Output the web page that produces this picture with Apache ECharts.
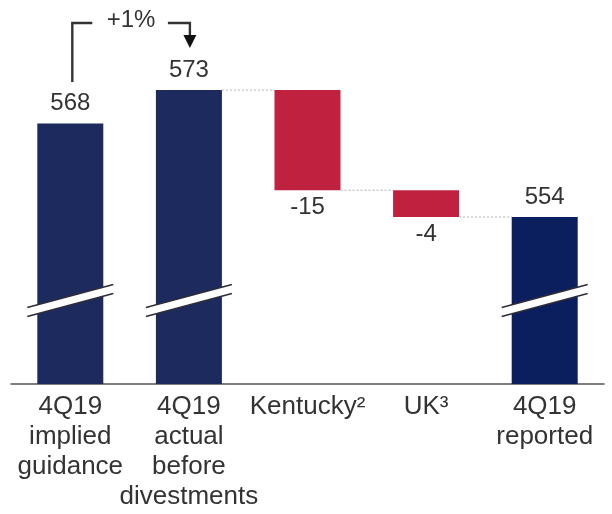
<!DOCTYPE html>
<html>
<head>
<meta charset="utf-8">
<script src="https://cdn.jsdelivr.net/npm/echarts@6/dist/echarts.min.js"></script>
<style>
  html, body { margin: 0; padding: 0; background: #ffffff; }
  #chart { width: 612px; height: 514px; }
</style>
</head>
<body>
<div id="chart"></div>
<script>
// Bridge from implied guidance to reported 4Q19
const categories = ['4Q19\nimplied\nguidance', '4Q19\nactual\nbefore\ndivestments', 'Kentucky²', 'UK³', '4Q19\nreported'];
const values = [568, 573, -15, -4, 554];
const isTotal = [true, true, false, false, true];
const changeLabel = '+1%';

// Styling
const FONT = '"Liberation Sans", Arial, sans-serif';
const TEXT = '#333333';
const NAVY = '#1c2a5e';
const NAVY_DEEP = '#0b1f5e';
const RED = '#c0213f';
const BAR_W = 66;
const AXIS_MIN = 529, AXIS_MAX = 579;
const BREAK_AT = 541.5; // where the axis-break marker sits on total bars

// Waterfall layout: invisible base + visible segment, running level after each step
const base = [], seg = [], levels = [];
let level = 0;
values.forEach((v, i) => {
  if (isTotal[i]) {
    base.push(0); seg.push(v); level = v;
  } else {
    base.push(Math.min(level, level + v)); seg.push(Math.abs(v)); level += v;
  }
  levels.push(level);
});

const barColors = values.map((v, i) => isTotal[i] ? (i === values.length - 1 ? NAVY_DEEP : NAVY) : RED);

// connector from the bar before each change to the next bar
const connectors = [];
for (let i = 1; i < values.length - 1; i++) connectors.push([i, levels[i]]);
const breaks = [];
isTotal.forEach((t, i) => { if (t) breaks.push([i, BREAK_AT]); });

const chart = echarts.init(document.getElementById('chart'), null, { renderer: 'canvas' });

chart.setOption({
  backgroundColor: '#ffffff',
  animation: false,
  textStyle: { fontFamily: FONT },
  grid: { left: 11, right: 8, top: 50, bottom: 130, containLabel: false },
  xAxis: {
    type: 'category',
    data: categories,
    axisTick: { show: false },
    axisLine: { lineStyle: { color: '#555555', width: 1.5 } },
    axisLabel: {
      interval: 0, fontSize: 26, lineHeight: 30, color: TEXT, margin: 8,
      fontFamily: FONT, align: 'center'
    }
  },
  yAxis: {
    type: 'value', min: AXIS_MIN, max: AXIS_MAX, show: false,
    splitLine: { show: false }
  },
  series: [
    {
      name: 'base', type: 'bar', stack: 'w', barWidth: BAR_W, silent: true,
      itemStyle: { color: 'transparent' },
      data: base
    },
    {
      name: 'value', type: 'bar', stack: 'w', barWidth: BAR_W,
      data: seg.map((s, i) => ({
        value: s,
        itemStyle: { color: barColors[i] },
        label: {
          show: true,
          position: isTotal[i] ? 'top' : 'bottom',
          distance: isTotal[i] ? 8 : 5,
          formatter: () => String(values[i]),
          fontSize: 24, color: TEXT, fontFamily: FONT
        }
      }))
    },
    {
      name: 'connectors', type: 'custom', silent: true, z: 3,
      data: connectors,
      renderItem: (params, api) => {
        const a = api.coord([api.value(0), api.value(1)]);
        const b = api.coord([api.value(0) + 1, api.value(1)]);
        return {
          type: 'line',
          shape: { x1: a[0] + BAR_W / 2, y1: a[1], x2: b[0] - BAR_W / 2, y2: b[1] },
          style: { stroke: '#b4b4b4', lineWidth: 1, lineDash: [2, 2] }
        };
      }
    },
    {
      name: 'breaks', type: 'custom', silent: true, z: 5,
      data: breaks,
      renderItem: (params, api) => {
        const c = api.coord([api.value(0), api.value(1)]);
        const hw = BAR_W / 2 + 10, dy = 11.5, t = 4.6;
        const x0 = c[0] - hw, x1 = c[0] + hw, y = c[1];
        return {
          type: 'group',
          children: [
            { type: 'polygon', shape: { points: [[x0, y + dy - t], [x1, y - dy - t], [x1, y - dy + t], [x0, y + dy + t]] },
              style: { fill: '#ffffff' } },
            { type: 'line', shape: { x1: x0, y1: y + dy - t, x2: x1, y2: y - dy - t },
              style: { stroke: '#2d2d3a', lineWidth: 1.6 } },
            { type: 'line', shape: { x1: x0, y1: y + dy + t, x2: x1, y2: y - dy + t },
              style: { stroke: '#2d2d3a', lineWidth: 1.6 } }
          ]
        };
      }
    }
  ]
});

// "+1%" bracket from the guidance bar to the actual bar
const pA = chart.convertToPixel({ gridIndex: 0 }, [0, values[0]]);
const pB = chart.convertToPixel({ gridIndex: 0 }, [1, values[1]]);
const xa = pA[0] + 2, xb = pB[0] + 1;
const yTop = 23;
chart.setOption({
  graphic: [
    { type: 'polyline', shape: { points: [[xa, 82], [xa, yTop], [xa + 20, yTop]] },
      style: { stroke: '#333333', lineWidth: 2.4, fill: null } },
    { type: 'text', x: (xa + xb) / 2, y: 20,
      style: { text: changeLabel, fontSize: 24, fontFamily: FONT, fill: TEXT, align: 'center', verticalAlign: 'middle' } },
    { type: 'polyline', shape: { points: [[xb - 22, yTop], [xb, yTop], [xb, 37]] },
      style: { stroke: '#333333', lineWidth: 2.4, fill: null } },
    { type: 'polygon', shape: { points: [[xb - 6.5, 35], [xb + 6.5, 35], [xb, 48]] },
      style: { fill: '#111111' } }
  ]
});
</script>
</body>
</html>
